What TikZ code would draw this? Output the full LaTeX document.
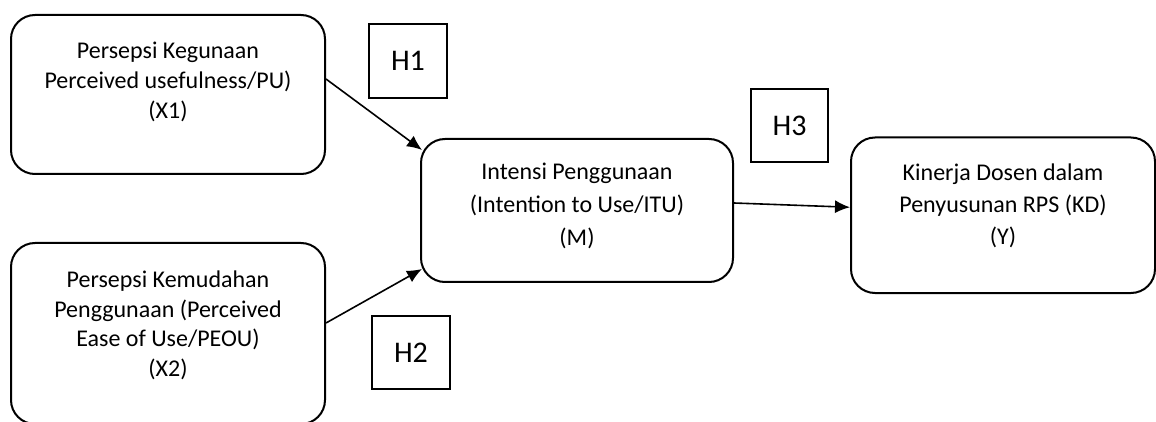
\documentclass[tikz,border=0pt]{standalone}
\usepackage{fontspec}
\setmainfont{Carlito}
\usetikzlibrary{arrows.meta,calc}
\begin{document}
\begin{tikzpicture}[x=0.5pt,y=-0.5pt,
  rbox/.style={draw=black,line width=1pt,rounded corners=12pt,inner sep=0pt},
  hbox/.style={draw=black,line width=0.8pt,inner sep=0pt,font=\fontsize{15pt}{18pt}\selectfont},
  txt/.style={align=center,inner sep=0pt,font=\fontsize{12pt}{14.8pt}\selectfont},
  arr/.style={line width=0.8pt,-{Latex[length=7.5pt,width=6.5pt]}}]
\useasboundingbox (0,0) rectangle (1156,422);
\begin{scope}
\clip (0,0) rectangle (1156,422);
\node[rbox,minimum width=157pt,minimum height=79.5pt] (x1) at (168,94.5) {};
\node[rbox,minimum width=157pt,minimum height=90.5pt] (x2) at (168,333.5) {};
\node[rbox,minimum width=156pt,minimum height=71.5pt] (m) at (577,210.5) {};
\node[rbox,minimum width=152pt,minimum height=77.75pt] (y) at (1003,215.25) {};
\end{scope}
\node[txt] (tx1) at (168,82) {Persepsi Kegunaan\\Perceived usefulness/PU)\\(X1)};
\node[txt] (tx2) at (168,325.5) {Persepsi Kemudahan\\Penggunaan (Perceived\\Ease of Use/PEOU)\\(X2)};
\node[txt,font=\fontsize{12pt}{16.5pt}\selectfont] (tm) at (577,205.5) {Intensi Penggunaan\\(Intention to Use/ITU)\\(M)};
\node[txt,font=\fontsize{12pt}{16pt}\selectfont] (ty) at (1003,206) {Kinerja Dosen dalam\\Penyusunan RPS (KD)\\(Y)};
\node[hbox,minimum width=39pt,minimum height=37pt] (h1) at (408,61) {H1};
\node[hbox,minimum width=39pt,minimum height=36.5pt] (h2) at (411,352.5) {H2};
\node[hbox,minimum width=38.5pt,minimum height=36.5pt] (h3) at (789.5,125.5) {H3};
\draw[arr] ($(x1.east)+(0,-15.5)$) -- ($(m.north west)+(2,12)$);
\draw[arr] ($(x2.east)+(0,-10.5)$) -- ($(m.south west)+(2,-14)$);
\draw[arr] ($(m.east)+(0,-7.5)$) -- ($(y.west)+(0,-8)$);
\end{tikzpicture}
\end{document}
